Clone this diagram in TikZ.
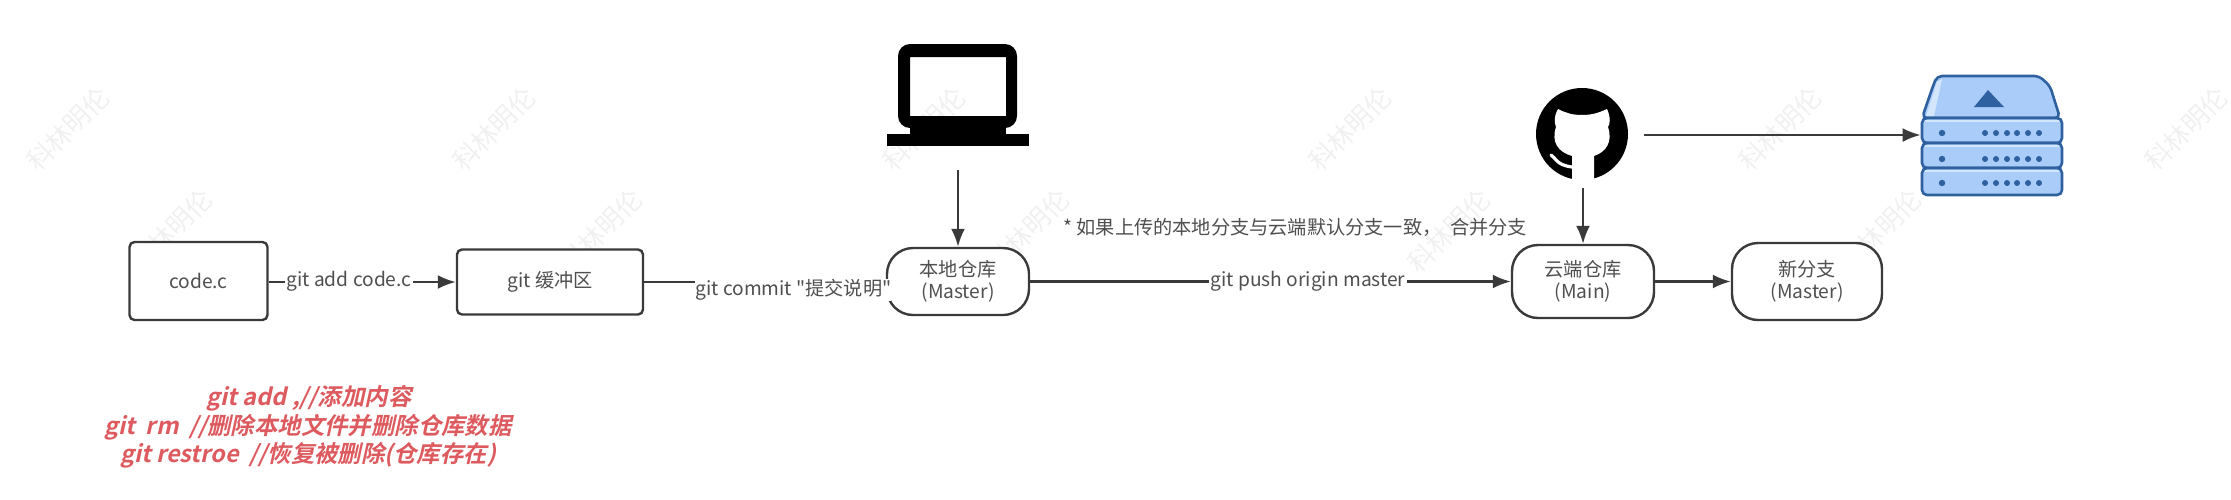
\documentclass[tikz,border=0pt]{standalone}
\usepackage{fontspec}
\setmainfont{Noto Sans CJK SC}
\newfontfamily\plainfont{Noto Sans CJK SC}
\newfontfamily\redfont[BoldFeatures={FakeSlant=0.22},BoldFont={Noto Sans CJK SC Bold}]{Noto Sans CJK SC}
\usetikzlibrary{arrows.meta,calc}
\definecolor{ink}{HTML}{3A3A3A}
\definecolor{txt}{HTML}{4F4F4F}
\definecolor{redtxt}{HTML}{DD5A5F}
\definecolor{srvfill}{HTML}{A9CDF8}
\definecolor{srvlight}{HTML}{D4E6FC}
\definecolor{srvline}{HTML}{2F609F}
\definecolor{wm}{HTML}{F0F0F0}
\tikzset{
  x=0.5pt,y=-0.5pt,
  conn/.style={draw=ink,line width=1.2pt,-{Latex[length=9pt,width=7pt]}},
  plain/.style={draw=ink,line width=1.2pt},
  boxnode/.style={draw=ink,fill=white,line width=1.2pt,rounded corners=2.5pt,inner sep=0pt,text=txt,font=\fontsize{9.6}{11.8}\selectfont,align=center},
  pill/.style={boxnode,rounded corners=13pt},
  lbl/.style={fill=white,inner sep=0.6pt,text=txt,font=\plainfont\fontsize{9.6}{11.8}\selectfont},
  redline/.style={text=redtxt,inner sep=0pt,font=\redfont\bfseries\fontsize{11.7}{14}\selectfont},
  wmark/.style={text=wm,rotate=45,inner sep=0pt,font=\fontsize{13}{13}\selectfont},
  srv/.style={draw=srvline,line width=1.3pt,fill=srvfill,rounded corners=2.5pt},
}
\begin{document}
\begin{tikzpicture}
\useasboundingbox (0,0) rectangle (2231,499);
% watermarks
\foreach \i/\p in {1/{68,129},2/{494,129},3/{924,129},4/{1350,129},5/{1780,129},6/{2186,129},7/{171,231},8/{601,231},9/{1028,231},10/{1449,231},11/{1880,231}}{
  \node[wmark] (wm\i) at (\p) {科林明伦};
}
% boxes
\node[boxnode,minimum width=69pt,minimum height=39pt] (code) at (198.5,281) {code.c};
\node[boxnode,minimum width=93pt,minimum height=32.5pt] (buf) at (550,282) {git 缓冲区};
\node[pill,minimum width=71pt,minimum height=33.5pt] (local) at (958,281.5) {本地仓库\\[-1pt](Master)};
\node[pill,minimum width=71pt,minimum height=36.5pt] (cloud) at (1583,281.5) {云端仓库\\[-1pt](Main)};
\node[pill,minimum width=75pt,minimum height=38.5pt] (newb) at (1807,281.5) {新分支\\[-1pt](Master)};
% laptop
\node[inner sep=0pt,minimum width=71pt,minimum height=51pt] (laptop) at (958,95) {};
\fill[black,even odd rule,rounded corners=6pt] (898,44) rectangle (1017,128) [sharp corners] (910,57) rectangle (1006,116);
\fill[black] (910,116) rectangle (1006,135);
\fill[black] (887,134) rectangle (1029,146);
% github
\node[inner sep=0pt,minimum size=46pt] (gh) at (1582,134) {};
\fill[black] (1582,134) circle (23pt);
\fill[white] (1558,109) .. controls (1566,113) and (1572,115) .. (1582,115) .. controls (1592,115) and (1598,113) .. (1607,109)
  .. controls (1611,118) and (1610,124) .. (1608,127) .. controls (1613,142) and (1606,152) .. (1594,156)
  -- (1594,180) -- (1572,180) -- (1572,156) .. controls (1558,152) and (1551,142) .. (1556,127) .. controls (1554,122) and (1554,116) .. (1558,109) -- cycle;
\draw[white,line width=1.6pt,line cap=round] (1551,155) .. controls (1556,158) and (1556,165) .. (1572,167);
% server
\node[inner sep=0pt,minimum width=70pt,minimum height=60pt] (server) at (1991,135) {};
\draw[srv] (1922,118) -- (1933,86) -- (1937,76) -- (2039,76) -- (2050,86) -- (2060,118) -- cycle;
\fill[srvlight] (1926,116) -- (1937,82) -- (1942,79) -- (1934,116) -- cycle;
\foreach \t/\b/\d in {118/143/133,143/168/159,168/195/183}{
  \draw[srv] (1922,\t) rectangle (2062,\b);
  \draw[srvlight,line width=1pt] (1925,\t+3) -- (2059,\t+3);
  \fill[srvline] (1942,\d) circle (1.6pt);
  \foreach \x in {1985,1996,2007,2017,2028,2039}{\fill[srvline] (\x,\d) circle (1.5pt);}
}
\fill[srvline] (1988,90) -- (2004,107) -- (1974,107) -- cycle;
% free ends
\coordinate (lapS) at (958,170);
\coordinate (ghS) at (1583,188);
\coordinate (ghE) at (1644,135);
% connectors
\draw[conn] (code.east |- buf.west) -- (buf.west);
\node[lbl] (l1) at (349,281) {git add code.c};
\draw[plain] (buf.east) -- ($(buf.east)+(53,0)$) coordinate (cm);
\node[lbl,anchor=north west,inner sep=0pt] (l2) at (695,279) {git commit "提交说明"};
\draw[conn] (lapS) -- (local.north);
\draw[conn] (local.east) -- (cloud.west);
\node[lbl] (l3) at (1308,281) {git push origin master};
\draw[conn] (ghS) -- (cloud.north);
\draw[conn] (ghE) -- (server.west |- ghE);
\draw[conn] (cloud.east) -- (newb.west);
\node[text=txt,inner sep=0pt,anchor=west,font=\fontsize{9.6}{11.8}\selectfont] (note) at (1063,227) {* 如果上传的本地分支与云端默认分支一致，\ \ 合并分支};
% red
\node[redline] (r1) at (309,398) {git add ,//添加内容};
\node[redline] (r2) at (308,427) {git\ \ rm \ //删除本地文件并删除仓库数据};
\node[redline] (r3) at (308,455) {git restroe \ //恢复被删除(仓库存在)};
\end{tikzpicture}
\end{document}
